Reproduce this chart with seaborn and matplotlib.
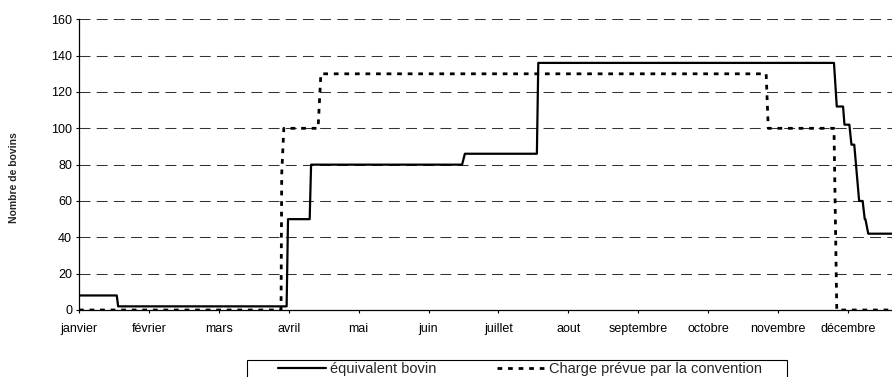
import matplotlib
matplotlib.use('Agg')
import matplotlib.pyplot as plt
from matplotlib.lines import Line2D
from matplotlib.patches import Rectangle
import seaborn as sns
import pandas as pd

# months on the x axis (position = month index, fractional inside a month)
mois = ['janvier', 'f\u00e9vrier', 'mars', 'avril', 'mai', 'juin', 'juillet',
        'aout', 'septembre', 'octobre', 'novembre', 'd\u00e9cembre']

# équivalent bovin (step curve vertices)
bovin_x = [0.0, 0.54, 0.56, 2.97, 2.99, 3.30, 3.32, 5.48, 5.52, 6.55, 6.57,
           10.80, 10.84, 10.93, 10.95, 11.02, 11.05, 11.09, 11.16, 11.21,
           11.24, 11.25, 11.29, 11.65]
bovin_y = [8, 8, 2, 2, 50, 50, 80, 80, 86, 86, 136,
           136, 112, 112, 102, 102, 91, 91, 60, 60,
           50, 50, 42, 42]

# charge prévue par la convention
conv_x = [0.0, 2.89, 2.90, 2.93, 3.42, 3.46, 9.83, 9.86, 10.80, 10.81, 10.84, 11.65]
conv_y = [0, 0, 75, 100, 100, 130, 130, 100, 100, 75, 0, 0]

labels = ['\u00e9quivalent bovin', 'Charge pr\u00e9vue par la convention']

sns.set_theme(style='white')
plt.rcParams['font.family'] = ['Liberation Sans', 'DejaVu Sans']

dots = (0, (1.7, 2.1))

fig = plt.figure(figsize=(8.92, 3.77), dpi=100)
ax = fig.add_axes([79 / 892, 1 - 310 / 377, 1 - 79 / 892, 290.7 / 377])

df_bovin = pd.DataFrame({'mois': bovin_x, 'n': bovin_y})
df_conv = pd.DataFrame({'mois': conv_x, 'n': conv_y})

sns.lineplot(data=df_bovin, x='mois', y='n', ax=ax, sort=False, estimator=None,
             color='black', lw=1.6, zorder=4)
sns.lineplot(data=df_conv, x='mois', y='n', ax=ax, sort=False, estimator=None,
             color='black', lw=2.0, linestyle=dots, dash_capstyle='butt', zorder=3)

ax.set_xlim(0, 11.63)
ax.set_ylim(0, 160)
ax.set_yticks(range(0, 161, 20))
ax.set_xticks(range(len(mois)))
ax.set_xticklabels(mois)
ax.set_xlabel('')
ax.set_ylabel('Nombre de bovins', fontsize=7.5, fontweight='bold')
ax.yaxis.set_label_coords(-0.0744, 0.456)

for v in range(20, 161, 20):
    ax.axhline(v, color='#333333', lw=0.75, linestyle=(0, (10.5, 6)), zorder=1)

for s in ['top', 'right']:
    ax.spines[s].set_visible(False)
for s in ['left', 'bottom']:
    ax.spines[s].set_color('black')
    ax.spines[s].set_linewidth(0.9)

ax.tick_params(axis='y', direction='out', length=2.5, width=0.8, pad=2.5,
               labelsize=9, colors='black', left=True)
ax.tick_params(axis='x', direction='out', length=2.5, width=0.8, pad=7,
               labelsize=9, colors='black', bottom=True)
ax.grid(False)

handles = [Line2D([], [], color='black', lw=1.6),
           Line2D([], [], color='black', lw=2.0, linestyle=dots, dash_capstyle='butt')]
fig.legend(handles, labels, loc='center left', bbox_to_anchor=(278 / 892, 1 - 369 / 377),
           ncol=2, frameon=False, fontsize=10.5, handlelength=3.3, handletextpad=0.3,
           columnspacing=4.1, borderpad=0, borderaxespad=0)
fig.patches.append(Rectangle((247 / 892, -0.05), 540 / 892, 0.05 + 17 / 377,
                             transform=fig.transFigure, fill=False,
                             edgecolor='black', lw=0.8))

fig.savefig('out.png', dpi=100)
